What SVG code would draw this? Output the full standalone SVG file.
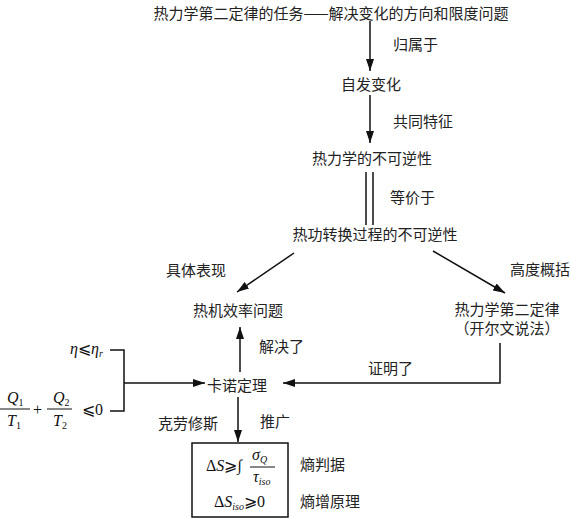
<svg xmlns="http://www.w3.org/2000/svg" width="570" height="520" viewBox="0 0 570 520">
<style>
.t{font-family:"Noto Sans CJK SC","Liberation Sans",sans-serif;font-size:15px;fill:#222;dominant-baseline:central}
.c{text-anchor:middle}
.m{font-family:"Liberation Serif","DejaVu Serif",serif;font-size:16px;fill:#111}
.i{font-style:italic}
.s{font-size:10px}
.ln{stroke:#111;stroke-width:1.5;fill:none}
</style>
<defs>
<marker id="ah" viewBox="0 0 12 8" refX="12" refY="4" markerWidth="12" markerHeight="8" markerUnits="userSpaceOnUse" orient="auto">
<path d="M0,0 L12,4 L0,8 Z" fill="#111"/>
</marker>
</defs>
<g id="connectors">
<line class="ln" x1="370" y1="21" x2="370" y2="71" marker-end="url(#ah)"/>
<line class="ln" x1="370" y1="95" x2="370" y2="143" marker-end="url(#ah)"/>
<line class="ln" x1="366" y1="172" x2="366" y2="225"/>
<line class="ln" x1="373" y1="172" x2="373" y2="225"/>
<line class="ln" x1="294" y1="253" x2="237" y2="292" marker-end="url(#ah)"/>
<line class="ln" x1="433" y1="251" x2="505" y2="293" marker-end="url(#ah)"/>
<line class="ln" x1="240" y1="372" x2="240" y2="327" marker-end="url(#ah)"/>
<polyline class="ln" points="500,343 500,383 283,383" marker-end="url(#ah)"/>
<line class="ln" x1="238" y1="397" x2="238" y2="442" marker-end="url(#ah)"/>
<polyline class="ln" points="110,350 124,350 124,411 110,411"/>
<line class="ln" x1="124" y1="383" x2="205" y2="383" marker-end="url(#ah)"/>
</g>
<g id="labels">
<text class="t" x="393" y="43">归属于</text>
<text class="t" x="393" y="120">共同特征</text>
<text class="t" x="390" y="196">等价于</text>
<text class="t" x="166" y="269">具体表现</text>
<text class="t" x="510" y="268">高度概括</text>
<text class="t" x="259" y="345">解决了</text>
<text class="t" x="368" y="367">证明了</text>
<text class="t" x="260" y="420">推广</text>
<text class="t" x="158" y="422">克劳修斯</text>
<text class="t" x="300" y="463">熵判据</text>
<text class="t" x="300" y="500">熵增原理</text>
</g>
<g id="n-task"><text class="t c" x="331" y="12">热力学第二定律的任务——解决变化的方向和限度问题</text></g>
<g id="n-spont"><text class="t c" x="371" y="83">自发变化</text></g>
<g id="n-irrev"><text class="t c" x="372" y="157">热力学的不可逆性</text></g>
<g id="n-workheat"><text class="t c" x="375" y="233">热功转换过程的不可逆性</text></g>
<g id="n-engine"><text class="t c" x="238" y="309">热机效率问题</text></g>
<g id="n-kelvin"><text class="t c" x="507" y="308">热力学第二定律</text><text class="t c" x="507" y="327">（开尔文说法）</text></g>
<g id="n-carnot"><text class="t c" x="237" y="384">卡诺定理</text></g>
<g id="n-eta"><text class="m" x="70" y="354"><tspan class="i">η</tspan>⩽<tspan class="i">η</tspan><tspan class="s i" dy="3">r</tspan></text></g>
<g id="n-clausius">
<text class="m i" x="7" y="403">Q<tspan class="s" font-style="normal" dy="3">1</tspan></text>
<line x1="0" y1="409" x2="30" y2="409" stroke="#111" stroke-width="1"/>
<text class="m i" x="7" y="426">T<tspan class="s" font-style="normal" dy="3">1</tspan></text>
<text class="m" x="33" y="415">+</text>
<text class="m i" x="53" y="403">Q<tspan class="s" font-style="normal" dy="3">2</tspan></text>
<line x1="47" y1="409" x2="72" y2="409" stroke="#111" stroke-width="1"/>
<text class="m i" x="53" y="426">T<tspan class="s" font-style="normal" dy="3">2</tspan></text>
<text class="m" x="82" y="415">⩽0</text>
</g>
<g id="n-entropy">
<rect x="192" y="443" width="96" height="74" fill="none" stroke="#111" stroke-width="1.5"/>
<text class="m" x="206" y="471">Δ<tspan class="i">S</tspan>⩾∫</text>
<text class="m i" x="252" y="460">σ<tspan class="s" dy="3">Q</tspan></text>
<line x1="250" y1="467" x2="275" y2="467" stroke="#111" stroke-width="1"/>
<text class="m i" x="253" y="482">τ<tspan class="s" dy="3">iso</tspan></text>
<text class="m" x="214" y="507">Δ<tspan class="i">S</tspan><tspan class="s i" dy="3">iso</tspan><tspan dy="-3">⩾0</tspan></text>
</g>
</svg>
